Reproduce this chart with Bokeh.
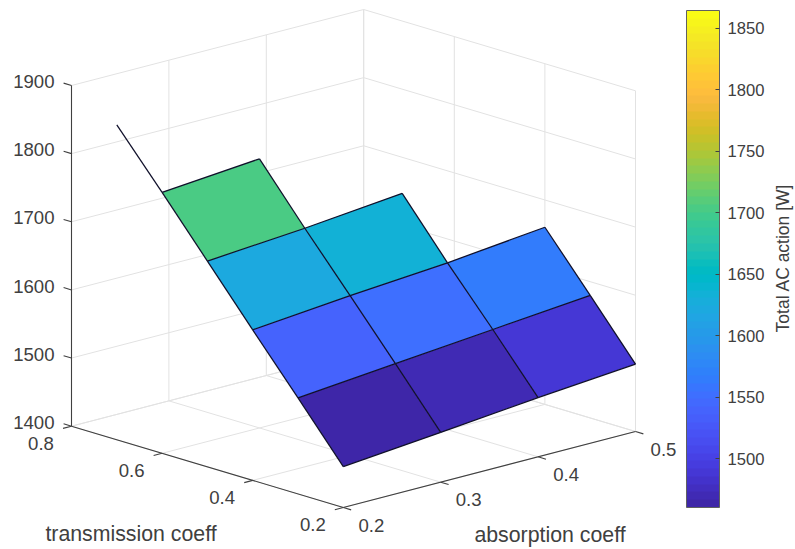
from bokeh.plotting import figure
from bokeh.models import Range1d, ColumnDataSource, ColorBar, LinearColorMapper, FixedTicker
from bokeh.transform import linear_cmap
from bokeh.core.properties import value
from bokeh.embed import file_html
from bokeh.resources import INLINE

# ---- data ----
transmission = [0.2, 0.3, 0.4, 0.5, 0.6, 0.7]
absorption = [0.2, 0.3, 0.4, 0.5]
ac_t02 = [1460, 1473, 1487, 1499]
ac_t03 = [1541, 1554, 1567, 1580]
ac_t04 = [1621, 1634, 1645, 1660]
ac_t05 = [1702, 1713, 1727, None]
ac_t06 = [1783, 1795, None, None]
ac_t07 = [1862, None, None, None]
total_ac = [ac_t02, ac_t03, ac_t04, ac_t05, ac_t06, ac_t07]

t_ticks = [0.2, 0.4, 0.6, 0.8]
a_ticks = [0.2, 0.3, 0.4, 0.5]
z_ticks = [1400, 1500, 1600, 1700, 1800, 1900]
cb_ticks = [1500, 1550, 1600, 1650, 1700, 1750, 1800, 1850]
cb_low, cb_high = 1460.4, 1864.4
x_title = "transmission coeff"
y_title = "absorption coeff"
cb_title = "Total AC action [W]"

parula = [(0.2422,0.1504,0.6603),(0.2504,0.1650,0.7076),(0.2578,0.1818,0.7511),(0.2647,0.1978,0.7952),
(0.2706,0.2147,0.8364),(0.2751,0.2342,0.8710),(0.2783,0.2559,0.8991),(0.2803,0.2782,0.9221),
(0.2813,0.3006,0.9414),(0.2810,0.3228,0.9579),(0.2795,0.3447,0.9717),(0.2760,0.3667,0.9829),
(0.2699,0.3892,0.9906),(0.2602,0.4123,0.9952),(0.2440,0.4358,0.9988),(0.2206,0.4603,0.9973),
(0.1963,0.4847,0.9892),(0.1834,0.5074,0.9798),(0.1786,0.5289,0.9682),(0.1764,0.5499,0.9520),
(0.1687,0.5703,0.9359),(0.1540,0.5902,0.9218),(0.1460,0.6091,0.9079),(0.1380,0.6276,0.8973),
(0.1248,0.6459,0.8883),(0.1113,0.6635,0.8763),(0.0952,0.6798,0.8598),(0.0689,0.6948,0.8394),
(0.0297,0.7082,0.8163),(0.0036,0.7203,0.7917),(0.0067,0.7312,0.7660),(0.0433,0.7411,0.7394),
(0.0964,0.7500,0.7120),(0.1408,0.7584,0.6842),(0.1717,0.7670,0.6554),(0.1938,0.7758,0.6251),
(0.2161,0.7843,0.5923),(0.2470,0.7918,0.5567),(0.2906,0.7973,0.5188),(0.3406,0.8008,0.4789),
(0.3909,0.8029,0.4354),(0.4456,0.8024,0.3909),(0.5044,0.7993,0.3480),(0.5616,0.7942,0.3045),
(0.6174,0.7876,0.2612),(0.6720,0.7793,0.2227),(0.7242,0.7698,0.1910),(0.7738,0.7598,0.1646),
(0.8203,0.7498,0.1535),(0.8634,0.7406,0.1596),(0.9035,0.7330,0.1774),(0.9393,0.7288,0.2100),
(0.9728,0.7298,0.2394),(0.9956,0.7434,0.2371),(0.9970,0.7659,0.2199),(0.9952,0.7893,0.2028),
(0.9892,0.8136,0.1885),(0.9786,0.8386,0.1766),(0.9676,0.8639,0.1643),(0.9610,0.8890,0.1537),
(0.9597,0.9135,0.1423),(0.9628,0.9373,0.1265),(0.9691,0.9606,0.1064),(0.9769,0.9839,0.0805)]
palette = ["#%02x%02x%02x" % tuple(round(c * 255) for c in rgb) for rgb in parula]

# ---- orthographic projection of the MATLAB-style 3-D box ----
T0, T1, A0, A1, Z0, Z1 = 0.2, 0.8, 0.2, 0.5, 1400, 1900
ORIGIN = (342.8, 507.0)
T_VEC = (-271.8, -81.3)
A_VEC = (292.2, -76.0)
Z_VEC = (0.0, -340.7)


def proj(t, a, z):
    ft, fa, fz = (t - T0) / (T1 - T0), (a - A0) / (A1 - A0), (z - Z0) / (Z1 - Z0)
    return (ORIGIN[0] + ft * T_VEC[0] + fa * A_VEC[0] + fz * Z_VEC[0],
            ORIGIN[1] + ft * T_VEC[1] + fa * A_VEC[1] + fz * Z_VEC[1])


p = figure(width=795, height=549, output_backend="svg", toolbar_location=None,
           x_range=Range1d(0, 795), y_range=Range1d(549, 0),
           x_axis_location=None, y_axis_location=None, min_border=0,
           outline_line_color=None, background_fill_color="white")
p.grid.visible = False


def segs(pairs):
    xs, ys = [], []
    for a, b in pairs:
        xs.append([a[0], b[0]])
        ys.append([a[1], b[1]])
    return xs, ys


# ---- light grid on floor and the two back walls ----
grid = []
for a in a_ticks:
    grid.append((proj(T0, a, Z0), proj(T1, a, Z0)))
    grid.append((proj(T1, a, Z0), proj(T1, a, Z1)))
for t in t_ticks:
    grid.append((proj(t, A0, Z0), proj(t, A1, Z0)))
    grid.append((proj(t, A1, Z0), proj(t, A1, Z1)))
for z in z_ticks:
    grid.append((proj(T1, A0, z), proj(T1, A1, z)))
    grid.append((proj(T1, A1, z), proj(T0, A1, z)))
gx, gy = segs(grid)
p.multi_line(gx, gy, line_color="#e2e2e2", line_width=1)

# ---- surface ----
cx, cy, cv = [], [], []
ex, ey = [], []
for i in range(len(transmission)):
    for j in range(len(absorption)):
        v = total_ac[i][j]
        if v is None:
            continue
        here = proj(transmission[i], absorption[j], v)
        if i + 1 < len(transmission) and total_ac[i + 1][j] is not None:
            o = proj(transmission[i + 1], absorption[j], total_ac[i + 1][j])
            ex.append([here[0], o[0]]); ey.append([here[1], o[1]])
        if j + 1 < len(absorption) and total_ac[i][j + 1] is not None:
            o = proj(transmission[i], absorption[j + 1], total_ac[i][j + 1])
            ex.append([here[0], o[0]]); ey.append([here[1], o[1]])
        if i + 1 < len(transmission) and j + 1 < len(absorption):
            quad = [(i, j), (i, j + 1), (i + 1, j + 1), (i + 1, j)]
            if all(total_ac[m][n] is not None for m, n in quad):
                pts = [proj(transmission[m], absorption[n], total_ac[m][n]) for m, n in quad]
                cx.append([q[0] for q in pts])
                cy.append([q[1] for q in pts])
                cv.append(v)

src = ColumnDataSource(dict(xs=cx, ys=cy, v=cv))
p.patches("xs", "ys", source=src, line_color=None,
          fill_color=linear_cmap("v", palette, cb_low, cb_high))
p.multi_line(ex, ey, line_color="#10102a", line_width=1.25)

# ---- dark axes and ticks ----
AXIS = "#404040"
TEXT = "#404040"
TL = 0.029  # tick length as a fraction of the axis vectors
axes = [(proj(T1, A0, Z0), proj(T1, A0, Z1)),
        (proj(T1, A0, Z0), proj(T0, A0, Z0)),
        (proj(T0, A0, Z0), proj(T0, A1, Z0))]
for z in z_ticks:
    b = proj(T1, A0, z)
    axes.append((b, (b[0] + T_VEC[0] * TL, b[1] + T_VEC[1] * TL)))
for t in t_ticks:
    b = proj(t, A0, Z0)
    axes.append((b, (b[0] - A_VEC[0] * TL, b[1] - A_VEC[1] * TL)))
for a in a_ticks:
    b = proj(T0, a, Z0)
    axes.append((b, (b[0] - T_VEC[0] * TL, b[1] - T_VEC[1] * TL)))
ax, ay = segs(axes)
p.multi_line(ax, ay, line_color=AXIS, line_width=1.1)


def label(x, y, s, size, align="center", angle=0.0):
    p.text([x], [y], text=[s], text_font=value("Liberation Sans"), text_font_size=value(size),
           text_color=TEXT, text_align=align, text_baseline="middle", angle=angle)


for z in z_ticks:
    b = proj(T1, A0, z)
    label(b[0] - 17, b[1] - 3.8, str(z), "18.6px", "right")
for t in t_ticks:
    b = proj(t, A0, Z0)
    label(b[0] - 30.5, b[1] + 16.8, f"{t:.1f}", "18.6px")
for a in a_ticks:
    b = proj(T0, a, Z0)
    label(b[0] + 28, b[1] + 17.6, f"{a:.1f}", "18.6px")

label(130.5, 533, x_title, "21.3px")
label(549.5, 534, y_title, "21.3px")
label(782.5, 257.5, cb_title, "17.5px", angle=1.5708)

# ---- colour bar ----
mapper = LinearColorMapper(palette=palette, low=cb_low, high=cb_high)
cb = ColorBar(color_mapper=mapper, width=33, height=497, padding=0, margin=0,
              location=(686, 42), ticker=FixedTicker(ticks=cb_ticks),
              major_tick_in=4, major_tick_out=0, major_tick_line_color=AXIS,
              minor_tick_line_color=None, bar_line_color="#606060", bar_line_width=1,
              label_standoff=8, major_label_text_font="Liberation Sans",
              major_label_text_font_size="16.6px", major_label_text_color=TEXT,
              background_fill_color=None, border_line_color=None)
p.add_layout(cb)

open("out.html", "w").write(file_html(p, INLINE))
